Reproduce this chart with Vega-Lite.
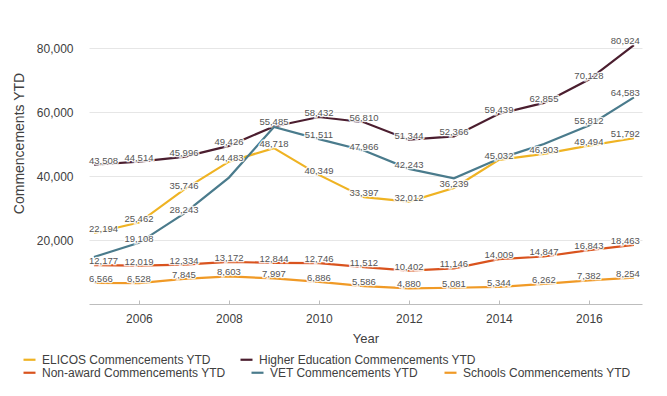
{
  "$schema": "https://vega.github.io/schema/vega-lite/v6.json",
  "width": 553,
  "height": 264,
  "autosize": {"type": "none"},
  "padding": {"left": 89, "top": 40, "right": 25, "bottom": 92},
  "background": "white",
  "config": {
    "font": "Liberation Sans",
    "view": {"stroke": null},
    "legend": {
      "orient": "none",
      "direction": "horizontal",
      "title": null,
      "labelFontSize": 12,
      "labelColor": "#404040",
      "labelLimit": 0,
      "symbolType": "stroke",
      "symbolStrokeWidth": 2.2,
      "symbolSize": 144,
      "labelOffset": 5,
      "columnPadding": 26,
      "padding": 0
    }
  },
  "data": {
    "values": [
      {"year": 2005, "series": "ELICOS Commencements YTD", "value": 22194, "labeled": true},
      {"year": 2006, "series": "ELICOS Commencements YTD", "value": 25462, "labeled": true},
      {"year": 2007, "series": "ELICOS Commencements YTD", "value": 35746, "labeled": true},
      {"year": 2008, "series": "ELICOS Commencements YTD", "value": 44483, "labeled": true},
      {"year": 2009, "series": "ELICOS Commencements YTD", "value": 48718, "labeled": true},
      {"year": 2010, "series": "ELICOS Commencements YTD", "value": 40349, "labeled": true},
      {"year": 2011, "series": "ELICOS Commencements YTD", "value": 33397, "labeled": true},
      {"year": 2012, "series": "ELICOS Commencements YTD", "value": 32012, "labeled": true},
      {"year": 2013, "series": "ELICOS Commencements YTD", "value": 36239, "labeled": true},
      {"year": 2014, "series": "ELICOS Commencements YTD", "value": 45032, "labeled": true},
      {"year": 2015, "series": "ELICOS Commencements YTD", "value": 46903, "labeled": true},
      {"year": 2016, "series": "ELICOS Commencements YTD", "value": 49494, "labeled": true},
      {"year": 2017, "series": "ELICOS Commencements YTD", "value": 51792, "labeled": true},
      {"year": 2005, "series": "Higher Education Commencements YTD", "value": 43508, "labeled": true},
      {"year": 2006, "series": "Higher Education Commencements YTD", "value": 44514, "labeled": true},
      {"year": 2007, "series": "Higher Education Commencements YTD", "value": 45996, "labeled": true},
      {"year": 2008, "series": "Higher Education Commencements YTD", "value": 49426, "labeled": true},
      {"year": 2009, "series": "Higher Education Commencements YTD", "value": 55485, "labeled": true},
      {"year": 2010, "series": "Higher Education Commencements YTD", "value": 58432, "labeled": true},
      {"year": 2011, "series": "Higher Education Commencements YTD", "value": 56810, "labeled": true},
      {"year": 2012, "series": "Higher Education Commencements YTD", "value": 51344, "labeled": true},
      {"year": 2013, "series": "Higher Education Commencements YTD", "value": 52366, "labeled": true},
      {"year": 2014, "series": "Higher Education Commencements YTD", "value": 59439, "labeled": true},
      {"year": 2015, "series": "Higher Education Commencements YTD", "value": 62855, "labeled": true},
      {"year": 2016, "series": "Higher Education Commencements YTD", "value": 70128, "labeled": true},
      {"year": 2017, "series": "Higher Education Commencements YTD", "value": 80924, "labeled": true},
      {"year": 2005, "series": "Non-award Commencements YTD", "value": 12177, "labeled": true},
      {"year": 2006, "series": "Non-award Commencements YTD", "value": 12019, "labeled": true},
      {"year": 2007, "series": "Non-award Commencements YTD", "value": 12334, "labeled": true},
      {"year": 2008, "series": "Non-award Commencements YTD", "value": 13172, "labeled": true},
      {"year": 2009, "series": "Non-award Commencements YTD", "value": 12844, "labeled": true},
      {"year": 2010, "series": "Non-award Commencements YTD", "value": 12746, "labeled": true},
      {"year": 2011, "series": "Non-award Commencements YTD", "value": 11512, "labeled": true},
      {"year": 2012, "series": "Non-award Commencements YTD", "value": 10402, "labeled": true},
      {"year": 2013, "series": "Non-award Commencements YTD", "value": 11146, "labeled": true},
      {"year": 2014, "series": "Non-award Commencements YTD", "value": 14009, "labeled": true},
      {"year": 2015, "series": "Non-award Commencements YTD", "value": 14847, "labeled": true},
      {"year": 2016, "series": "Non-award Commencements YTD", "value": 16843, "labeled": true},
      {"year": 2017, "series": "Non-award Commencements YTD", "value": 18463, "labeled": true},
      {"year": 2005, "series": "VET Commencements YTD", "value": 14700, "labeled": false},
      {"year": 2006, "series": "VET Commencements YTD", "value": 19108, "labeled": true},
      {"year": 2007, "series": "VET Commencements YTD", "value": 28243, "labeled": true},
      {"year": 2008, "series": "VET Commencements YTD", "value": 39500, "labeled": false},
      {"year": 2009, "series": "VET Commencements YTD", "value": 55300, "labeled": false},
      {"year": 2010, "series": "VET Commencements YTD", "value": 51511, "labeled": true},
      {"year": 2011, "series": "VET Commencements YTD", "value": 47966, "labeled": true},
      {"year": 2012, "series": "VET Commencements YTD", "value": 42243, "labeled": true},
      {"year": 2013, "series": "VET Commencements YTD", "value": 39300, "labeled": false},
      {"year": 2014, "series": "VET Commencements YTD", "value": 45400, "labeled": false},
      {"year": 2015, "series": "VET Commencements YTD", "value": 50000, "labeled": false},
      {"year": 2016, "series": "VET Commencements YTD", "value": 55812, "labeled": true},
      {"year": 2017, "series": "VET Commencements YTD", "value": 64583, "labeled": true},
      {"year": 2005, "series": "Schools Commencements YTD", "value": 6566, "labeled": true},
      {"year": 2006, "series": "Schools Commencements YTD", "value": 6528, "labeled": true},
      {"year": 2007, "series": "Schools Commencements YTD", "value": 7845, "labeled": true},
      {"year": 2008, "series": "Schools Commencements YTD", "value": 8603, "labeled": true},
      {"year": 2009, "series": "Schools Commencements YTD", "value": 7997, "labeled": true},
      {"year": 2010, "series": "Schools Commencements YTD", "value": 6886, "labeled": true},
      {"year": 2011, "series": "Schools Commencements YTD", "value": 5586, "labeled": true},
      {"year": 2012, "series": "Schools Commencements YTD", "value": 4880, "labeled": true},
      {"year": 2013, "series": "Schools Commencements YTD", "value": 5081, "labeled": true},
      {"year": 2014, "series": "Schools Commencements YTD", "value": 5344, "labeled": true},
      {"year": 2015, "series": "Schools Commencements YTD", "value": 6262, "labeled": true},
      {"year": 2016, "series": "Schools Commencements YTD", "value": 7382, "labeled": true},
      {"year": 2017, "series": "Schools Commencements YTD", "value": 8254, "labeled": true}
    ]
  },
  "encoding": {
    "x": {
      "field": "year",
      "type": "quantitative",
      "scale": {"domain": [2004.89, 2017.18], "nice": false, "zero": false},
      "axis": {
        "values": [2006, 2008, 2010, 2012, 2014, 2016],
        "format": "d",
        "grid": false,
        "domainColor": "#bdbdbd",
        "tickColor": "#bdbdbd",
        "tickSize": -4,
        "labelPadding": 13,
        "labelFontSize": 12,
        "labelColor": "#404040",
        "title": "Year",
        "titleFontSize": 13,
        "titleFontWeight": "normal",
        "titleColor": "#404040",
        "titlePadding": 8
      }
    },
    "y": {
      "field": "value",
      "type": "quantitative",
      "scale": {"domain": [0, 82500], "nice": false},
      "axis": {
        "values": [20000, 40000, 60000, 80000],
        "format": ",.0f",
        "domain": false,
        "ticks": false,
        "gridColor": "#e6e6e6",
        "labelPadding": 16,
        "labelFontSize": 12,
        "labelColor": "#404040",
        "title": "Commencements YTD",
        "titleFontSize": 14,
        "titleFontWeight": "normal",
        "titleColor": "#404040",
        "titleX": -66,
        "titleY": 103,
        "titleBaseline": "alphabetic"
      }
    }
  },
  "layer": [
    {
      "transform": [{"filter": "datum.series == 'ELICOS Commencements YTD' || datum.series == 'Higher Education Commencements YTD'"}],
      "mark": {"type": "line", "strokeWidth": 2.2},
      "encoding": {
        "color": {
          "field": "series",
          "type": "nominal",
          "scale": {"domain": ["ELICOS Commencements YTD", "Higher Education Commencements YTD"], "range": ["#EFB323", "#4B1E2F"]},
          "legend": {"legendX": -67, "legendY": 312, "columnPadding": 25}
        }
      }
    },
    {
      "transform": [{"filter": "datum.series != 'ELICOS Commencements YTD' && datum.series != 'Higher Education Commencements YTD'"}],
      "mark": {"type": "line", "strokeWidth": 2.2},
      "encoding": {
        "color": {
          "field": "series",
          "type": "nominal",
          "scale": {"domain": ["Non-award Commencements YTD", "VET Commencements YTD", "Schools Commencements YTD"], "range": ["#D9531E", "#4A7B8C", "#F09A26"]},
          "legend": {"legendX": -67, "legendY": 325, "columnPadding": 21}
        }
      }
    },
    {
      "transform": [{"filter": "datum.labeled && datum.year > 2005 && datum.year < 2017"}],
      "mark": {"type": "text", "fontSize": 9.5, "baseline": "middle", "dy": -4, "fill": "white", "stroke": "white", "strokeWidth": 2.5, "strokeOpacity": 0.85},
      "encoding": {"text": {"field": "value", "type": "quantitative", "format": ","}}
    },
    {
      "transform": [{"filter": "datum.labeled && datum.year == 2005"}],
      "mark": {"type": "text", "fontSize": 9.5, "baseline": "middle", "align": "left", "dx": -5, "dy": -4, "fill": "white", "stroke": "white", "strokeWidth": 2.5, "strokeOpacity": 0.85},
      "encoding": {"text": {"field": "value", "type": "quantitative", "format": ","}}
    },
    {
      "transform": [{"filter": "datum.labeled && datum.year == 2017"}],
      "mark": {"type": "text", "fontSize": 9.5, "baseline": "middle", "align": "right", "dx": 6, "dy": -4, "fill": "white", "stroke": "white", "strokeWidth": 2.5, "strokeOpacity": 0.85},
      "encoding": {"text": {"field": "value", "type": "quantitative", "format": ","}}
    },
    {
      "transform": [{"filter": "datum.labeled && datum.year > 2005 && datum.year < 2017"}],
      "mark": {"type": "text", "fontSize": 9.5, "baseline": "middle", "dy": -4, "fill": "#555555"},
      "encoding": {"text": {"field": "value", "type": "quantitative", "format": ","}}
    },
    {
      "transform": [{"filter": "datum.labeled && datum.year == 2005"}],
      "mark": {"type": "text", "fontSize": 9.5, "baseline": "middle", "align": "left", "dx": -5, "dy": -4, "fill": "#555555"},
      "encoding": {"text": {"field": "value", "type": "quantitative", "format": ","}}
    },
    {
      "transform": [{"filter": "datum.labeled && datum.year == 2017"}],
      "mark": {"type": "text", "fontSize": 9.5, "baseline": "middle", "align": "right", "dx": 6, "dy": -4, "fill": "#555555"},
      "encoding": {"text": {"field": "value", "type": "quantitative", "format": ","}}
    }
  ],
  "resolve": {"scale": {"color": "independent"}}
}
